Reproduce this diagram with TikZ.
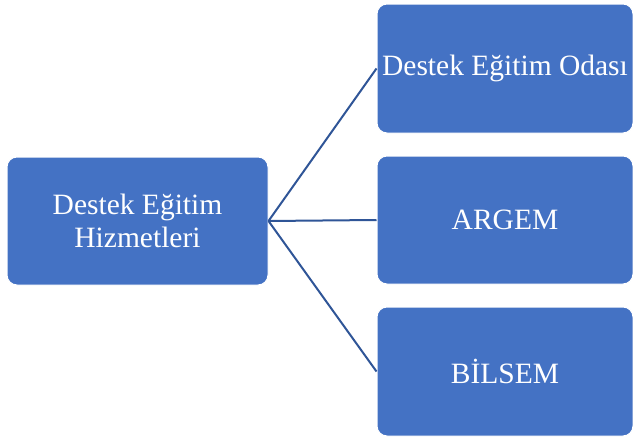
\documentclass[tikz,border=0pt]{standalone}
\usepackage{fontspec}
\setmainfont{Liberation Serif}
\definecolor{boxblue}{HTML}{4472C4}
\definecolor{linkblue}{HTML}{2F5597}
\begin{document}
\begin{tikzpicture}[x=1pt,y=-1pt,
  itembox/.style={draw=white, line width=1pt, fill=boxblue, rounded corners=10pt,
    text=white, font=\fontsize{29.5}{33}\selectfont, align=center, inner sep=0pt},
  link/.style={draw=linkblue, line width=2pt}]
\useasboundingbox (0,0) rectangle (633,439);
\node[itembox, minimum width=261pt, minimum height=128pt] (main) at (137.5,221) {Destek Eğitim\\Hizmetleri};
\node[itembox, minimum width=256pt, minimum height=129pt] (oda) at (505,68.5) {Destek Eğitim Odası};
\node[itembox, minimum width=256pt, minimum height=128pt] (argem) at (505,220) {ARGEM};
\node[itembox, minimum width=256pt, minimum height=129pt] (bilsem) at (505,371.5) {BİLSEM};
\draw[link] (main.east) -- (oda.west);
\draw[link] (main.east) -- (argem.west);
\draw[link] (main.east) -- (bilsem.west);
\end{tikzpicture}
\end{document}
